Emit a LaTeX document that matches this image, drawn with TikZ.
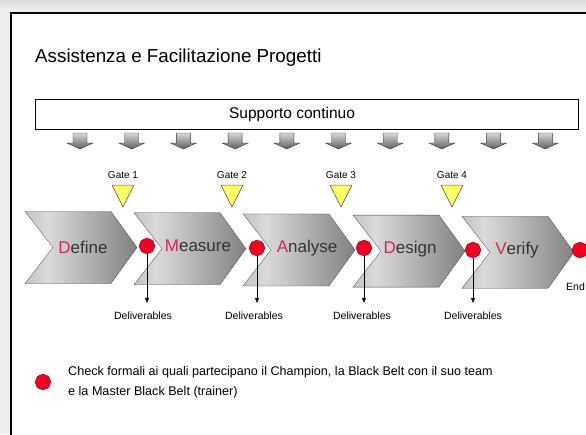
\documentclass[tikz,border=0pt]{standalone}
\usepackage{fontspec}
\setmainfont{Liberation Sans}
\usetikzlibrary{arrows.meta,shapes.geometric}
\definecolor{bgout}{HTML}{EEEEEE}
\definecolor{bgtop}{HTML}{DCDCDC}
\definecolor{dotred}{HTML}{F00022}
\definecolor{dotedge}{HTML}{A00010}
\definecolor{initial}{HTML}{D42A4A}
\definecolor{labtext}{HTML}{333333}
\definecolor{gateyellow}{HTML}{FFFF66}
\definecolor{chA}{HTML}{8A8A8A}
\definecolor{chB}{HTML}{DADADA}
\definecolor{chC}{HTML}{4A4A4A}
\definecolor{arrtop}{HTML}{D8D8D8}
\definecolor{arrbot}{HTML}{5E5E5E}
\pgfdeclarehorizontalshading{chevshade}{100bp}{color(0bp)=(chA); color(35bp)=(chB); color(100bp)=(chC)}
\begin{document}
\begin{tikzpicture}[x=1pt,y=-1pt,
  chev/.style={shading=chevshade, draw=gray!60!black, line width=0.3pt},
  steplabel/.style={font=\fontsize{17}{20}\selectfont, text=labtext, inner sep=0pt},
  gatelab/.style={font=\fontsize{10}{12}\selectfont, inner sep=0pt},
  gatetri/.style={draw=black!70, fill=gateyellow, line width=0.5pt},
  chk/.style={regular polygon, regular polygon sides=8, shape border rotate=22.5, minimum size=16pt, inner sep=0pt, fill=dotred, draw=dotedge, line width=0.4pt},
  deliv/.style={font=\fontsize{10.5}{12}\selectfont, inner sep=1pt},
  supparrow/.style={top color=arrtop, bottom color=arrbot, draw=gray!40!black, line width=0.4pt},
  delarrow/.style={-{Triangle[length=5pt,width=4pt]}, line width=0.6pt, shorten >=8pt}
]
\useasboundingbox (0,0) rectangle (586,434);
\clip (0,0) rectangle (586,434);
% background
\fill[bgout] (0,0) rectangle (586,434);
\fill[top color=bgtop, bottom color=bgout] (0,0) rectangle (586,9);
\filldraw[fill=white, draw=black, line width=1.2pt] (11,13) rectangle (600,450);

% title
\node[anchor=base west, font=\fontsize{18.8}{22}\selectfont, inner sep=0pt] (title) at (35,62) {Assistenza e Facilitazione Progetti};

% support box
\draw[line width=0.8pt] (35,99) rectangle (578,129);
\node[font=\fontsize{15.5}{18}\selectfont, inner sep=0pt] (supp) at (292,114) {Supporto continuo};

% small support arrows
\foreach \i in {0,...,9} {
  \pgfmathsetmacro{\ax}{80+51.7*\i}
  \path[supparrow] (\ax-7,133) -- (\ax+7,133) -- (\ax+7,143) -- (\ax+13,143) -- (\ax,149) -- (\ax-13,143) -- (\ax-7,143) -- cycle;
}

% gates
\foreach \gx/\gn in {123/1, 232/2, 341/3, 452/4} {
  \node[gatelab] (gate\gn) at (\gx,175) {Gate \gn};
  \path[gatetri] (\gx-11,185) -- (\gx+11,185) -- (\gx,207) -- cycle;
}

% chevrons
\foreach \cx/\cy in {25/247.5, 134/248.7, 243/249.9, 353/251.1, 462/252.3} {
  \path[chev] (\cx,\cy-36) -- (\cx+86,\cy-36) -- (\cx+112,\cy) -- (\cx+86,\cy+36) -- (\cx,\cy+36) -- (\cx+28,\cy) -- cycle;
}
\node[steplabel] (define)  at (83,247)  {\textcolor{initial}{D}efine};
\node[steplabel] (measure) at (198,246) {\textcolor{initial}{M}easure};
\node[steplabel] (analyse) at (307,248) {\textcolor{initial}{A}nalyse};
\node[steplabel] (design)  at (410,249) {\textcolor{initial}{D}esign};
\node[steplabel] (verify)  at (517,250) {\textcolor{initial}{V}erify};

% check points
\node[chk] (c1) at (147,246) {};
\node[chk] (c2) at (257,248) {};
\node[chk] (c3) at (364,248) {};
\node[chk] (c4) at (473,250) {};
\node[chk] (c5) at (580,250) {};

\node[deliv] (del1) at (143,316) {Deliverables};
\node[deliv] (del2) at (254,316) {Deliverables};
\node[deliv] (del3) at (362,316) {Deliverables};
\node[deliv] (del4) at (473,316) {Deliverables};
\node[deliv, anchor=west] (endlab) at (565,287) {End};

\draw[delarrow] (c1.south) -- (c1.south |- del1.north);
\draw[delarrow] (c2.south) -- (c2.south |- del2.north);
\draw[delarrow] (c3.south) -- (c3.south |- del3.north);
\draw[delarrow] (c4.south) -- (c4.south |- del4.north);

% legend
\node[chk] (legdot) at (43,382) {};
\node[anchor=west, align=left, font=\fontsize{12.6}{20}\selectfont, inner sep=0pt] (legtxt) at (68,382)
  {Check formali ai quali partecipano il Champion, la Black Belt con il suo team\\e la Master Black Belt (trainer)};
\end{tikzpicture}
\end{document}
